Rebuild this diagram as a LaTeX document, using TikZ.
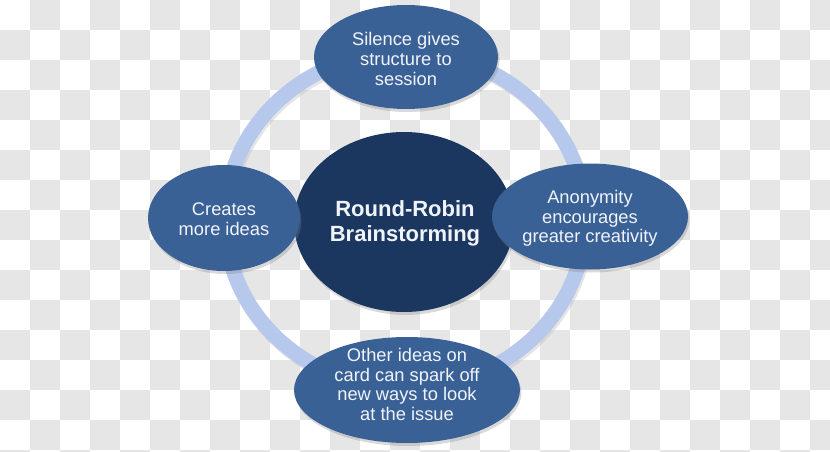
\documentclass[tikz,border=0pt]{standalone}
\usepackage{fontspec}
\setmainfont{Liberation Sans}
\usetikzlibrary{shapes.geometric,shadows}
\definecolor{midblue}{RGB}{58,97,150}
\definecolor{darkblue}{RGB}{27,55,95}
\definecolor{ringblue}{RGB}{182,200,236}
\definecolor{checkgray}{RGB}{230,230,230}
\definecolor{txt}{RGB}{240,244,250}
\tikzset{
  sat/.style={ellipse, fill=midblue, inner sep=0pt,
    drop shadow={opacity=0.3, shadow xshift=1.5pt, shadow yshift=-3pt}},
  hub/.style={ellipse, fill=darkblue, inner sep=0pt,
    drop shadow={opacity=0.3, shadow xshift=1.5pt, shadow yshift=-3pt}},
  sattext/.style={text=txt, align=center, inner sep=0pt, font=\fontsize{18.3}{19.7}\selectfont},
  hubtext/.style={text=txt, align=center, inner sep=0pt, font=\bfseries\fontsize{22}{25}\selectfont},
  ringline/.style={draw=ringblue, line width=15pt}
}
\begin{document}
\begin{tikzpicture}[x=1pt,y=-1pt]
\useasboundingbox (0,0) rectangle (830,452);
\foreach \i in {0,...,27}{\foreach \j in {0,...,15}{
  \pgfmathtruncatemacro\p{mod(\i+\j,2)}
  \ifnum\p=1 \fill[checkgray] (\i*30,\j*30) rectangle ++(30,30); \fi }}
\coordinate (rc) at (405,220);
\draw[black!25, line width=15pt, opacity=0.4] ([shift={(1.5,2.5)}]rc) ellipse [x radius=180, y radius=168];
\draw[ringline] (rc) ellipse [x radius=180, y radius=168];
\node[hub, minimum width=220pt, minimum height=180pt] (hub) at (404,222) {};
\node[sat, minimum width=184pt, minimum height=104pt] (top) at (406,57) {};
\node[sat, minimum width=152pt, minimum height=106pt] (left) at (224,218) {};
\node[sat, minimum width=196pt, minimum height=106pt] (right) at (590,216.5) {};
\node[sat, minimum width=226pt, minimum height=106pt] (bottom) at (407,390) {};
\node[hubtext] (hubT) at (405,223.5) {Round-Robin\\Brainstorming};
\node[sattext] (topT) at (406,59) {Silence gives\\structure to\\session};
\node[sattext] (leftT) at (224,219) {Creates\\more ideas};
\node[sattext] (rightT) at (590,218.5) {Anonymity\\encourages\\greater creativity};
\node[sattext] (bottomT) at (407,384.5) {Other ideas on\\card can spark off\\new ways to look\\at the issue};
\end{tikzpicture}
\end{document}
